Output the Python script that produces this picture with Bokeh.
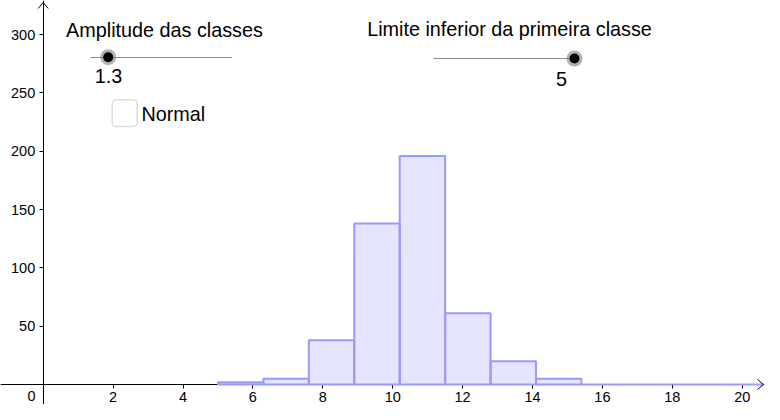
from bokeh.plotting import figure
from bokeh.models import Range1d, FixedTicker, Label, BoxAnnotation
from bokeh.embed import file_html
from bokeh.resources import INLINE

# ---- data ----
class_width = 1.3          # "Amplitude das classes"
class_lower = 5            # "Limite inferior da primeira classe"
counts = [2, 5, 38, 138, 196, 61, 20, 5, 0, 0, 0, 0, 0]
x_ticks = [2, 4, 6, 8, 10, 12, 14, 16, 18, 20]
y_ticks = [50, 100, 150, 200, 250, 300]
slider1_label = "Amplitude das classes"
slider2_label = "Limite inferior da primeira classe"
checkbox_label = "Normal"

lefts = [class_lower + i * class_width for i in range(len(counts))]
rights = [l + class_width for l in lefts]

W, H = 764, 404
PPX = 34.95      # pixels per x unit
PPY = 1.1664     # pixels per y unit
x0 = -42.7 / PPX
x1 = x0 + W / PPX
y0 = -(H - 384.0) / PPY
y1 = y0 + H / PPY

FONT = "Liberation Sans"

p = figure(width=W, height=H, x_range=Range1d(x0, x1), y_range=Range1d(y0, y1),
           output_backend="svg", toolbar_location=None, min_border=0)
p.grid.visible = False
p.outline_line_color = None
p.background_fill_color = "white"

for ax in (p.xaxis, p.yaxis):
    ax.fixed_location = 0
    ax.axis_line_color = "black"
    ax.axis_line_width = 1
    ax.major_tick_line_color = "black"
    ax.major_tick_in = 0
    ax.major_tick_out = 4
    ax.minor_tick_line_color = None
    ax.major_label_text_font = FONT
    ax.major_label_text_font_size = "14.5px"
    ax.major_label_text_color = "black"
    ax.level = "underlay"
p.xaxis.ticker = FixedTicker(ticks=x_ticks)
p.yaxis.ticker = FixedTicker(ticks=y_ticks)
p.xaxis.major_label_standoff = 3
p.yaxis.major_label_standoff = 4

# histogram
p.quad(left=lefts, right=rights, bottom=0, top=counts,
       fill_color="#0000FF", fill_alpha=0.1,
       line_color="#9999FF", line_width=2)

# helpers: reference pixel -> data
def dx(sx):
    return x0 + sx / PPX

def dy(sy):
    return y1 - sy / PPY

# axis arrows
p.segment(x0=[dx(757), dx(757)], y0=[dy(379), dy(389)], x1=[dx(763), dx(763)], y1=[dy(384), dy(384)],
          line_color="black", line_width=1)
p.segment(x0=[dx(37.7), dx(47.7)], y0=[dy(8), dy(8)], x1=[dx(42.7), dx(42.7)], y1=[dy(2), dy(2)],
          line_color="black", line_width=1)

# origin label
p.add_layout(Label(x=31, y=H - 395, x_units="screen", y_units="screen", text="0",
                   text_align="center", text_baseline="middle", text_font=FONT,
                   text_font_size="14.5px", text_color="black"))

# sliders
p.segment(x0=[dx(90), dx(433)], y0=[dy(57), dy(58)], x1=[dx(231.5), dx(575)], y1=[dy(57), dy(58)],
          line_color="#8c8c8c", line_width=1)
p.scatter(x=[dx(107.7), dx(574)], y=[dy(56.7), dy(58)], size=16, marker="circle",
          fill_color="#808080", fill_alpha=0.6, line_color=None)
p.scatter(x=[dx(107.7), dx(574)], y=[dy(56.7), dy(58)], size=10, marker="circle",
          fill_color="black", line_color=None)

def lab(text, sx, sy, size="19.8px", align="center"):
    p.add_layout(Label(x=sx, y=H - sy, x_units="screen", y_units="screen", text=text,
                       text_align=align, text_baseline="middle", text_font=FONT,
                       text_font_size=size, text_color="black"))

lab(slider1_label, 164, 29)
lab(slider2_label, 509, 28)
lab(str(class_width), 108, 75)
lab(str(class_lower), 561, 78)

# checkbox
p.add_layout(BoxAnnotation(left=111.7, right=136.7, top=H - 99.3, bottom=H - 126,
                           left_units="screen", right_units="screen",
                           top_units="screen", bottom_units="screen",
                           fill_color="white", fill_alpha=1.0, line_color="#888888",
                           line_width=1.5, border_radius=4))
lab(checkbox_label, 141, 113, align="left")

open("out.html", "w").write(file_html(p, INLINE))
